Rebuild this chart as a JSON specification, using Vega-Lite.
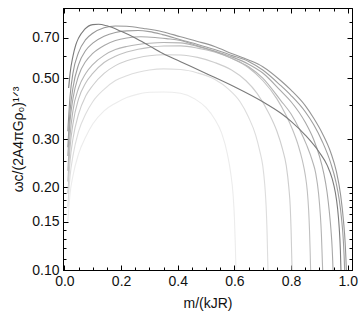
{
  "$schema": "https://vega.github.io/schema/vega-lite/v6.json",
  "width": 289,
  "height": 262,
  "autosize": {"type": "none"},
  "padding": {"left": 63, "top": 8, "right": 8, "bottom": 46},
  "background": "white",
  "config": {
    "view": {"stroke": "#000", "strokeWidth": 1},
    "font": "Liberation Sans",
    "axis": {"domainColor": "#000", "tickColor": "#000", "grid": false, "labelColor": "#111", "titleColor": "#111", "labelFont": "Liberation Sans", "titleFont": "Liberation Sans", "labelFontSize": 14, "titleFontSize": 14, "titleFontWeight": "normal", "labelOverlap": false, "labelFlush": false}
  },
  "data": {"values": [
    {"c":"C8","x":0.012,"v":0.15},{"c":"C8","x":0.02,"v":0.19},{"c":"C8","x":0.03,"v":0.22},{"c":"C8","x":0.05,"v":0.265},{"c":"C8","x":0.075,"v":0.305},{"c":"C8","x":0.1,"v":0.34},{"c":"C8","x":0.14,"v":0.38},{"c":"C8","x":0.18,"v":0.405},{"c":"C8","x":0.22,"v":0.425},{"c":"C8","x":0.26,"v":0.437},{"c":"C8","x":0.3,"v":0.444},{"c":"C8","x":0.35,"v":0.445},{"c":"C8","x":0.41,"v":0.44},{"c":"C8","x":0.46,"v":0.42},{"c":"C8","x":0.5,"v":0.39},{"c":"C8","x":0.53,"v":0.355},{"c":"C8","x":0.555,"v":0.315},{"c":"C8","x":0.575,"v":0.265},{"c":"C8","x":0.587,"v":0.225},{"c":"C8","x":0.595,"v":0.19},{"c":"C8","x":0.6,"v":0.155},{"c":"C8","x":0.603,"v":0.125},{"c":"C8","x":0.605,"v":0.105},{"c":"C8","x":0.607,"v":0.08},
    {"c":"C7","x":0.012,"v":0.17},{"c":"C7","x":0.02,"v":0.22},{"c":"C7","x":0.03,"v":0.26},{"c":"C7","x":0.05,"v":0.32},{"c":"C7","x":0.075,"v":0.37},{"c":"C7","x":0.1,"v":0.41},{"c":"C7","x":0.14,"v":0.455},{"c":"C7","x":0.18,"v":0.49},{"c":"C7","x":0.22,"v":0.51},{"c":"C7","x":0.26,"v":0.525},{"c":"C7","x":0.3,"v":0.535},{"c":"C7","x":0.35,"v":0.54},{"c":"C7","x":0.41,"v":0.537},{"c":"C7","x":0.47,"v":0.522},{"c":"C7","x":0.53,"v":0.495},{"c":"C7","x":0.58,"v":0.455},{"c":"C7","x":0.62,"v":0.41},{"c":"C7","x":0.65,"v":0.36},{"c":"C7","x":0.675,"v":0.31},{"c":"C7","x":0.69,"v":0.27},{"c":"C7","x":0.7,"v":0.24},{"c":"C7","x":0.707,"v":0.205},{"c":"C7","x":0.712,"v":0.17},{"c":"C7","x":0.715,"v":0.14},{"c":"C7","x":0.717,"v":0.115},{"c":"C7","x":0.719,"v":0.095},{"c":"C7","x":0.721,"v":0.075},
    {"c":"C6","x":0.012,"v":0.19},{"c":"C6","x":0.02,"v":0.25},{"c":"C6","x":0.03,"v":0.3},{"c":"C6","x":0.05,"v":0.37},{"c":"C6","x":0.075,"v":0.43},{"c":"C6","x":0.1,"v":0.47},{"c":"C6","x":0.14,"v":0.52},{"c":"C6","x":0.18,"v":0.555},{"c":"C6","x":0.22,"v":0.578},{"c":"C6","x":0.26,"v":0.593},{"c":"C6","x":0.3,"v":0.603},{"c":"C6","x":0.35,"v":0.608},{"c":"C6","x":0.41,"v":0.607},{"c":"C6","x":0.47,"v":0.595},{"c":"C6","x":0.53,"v":0.57},{"c":"C6","x":0.59,"v":0.535},{"c":"C6","x":0.64,"v":0.49},{"c":"C6","x":0.68,"v":0.44},{"c":"C6","x":0.72,"v":0.375},{"c":"C6","x":0.75,"v":0.32},{"c":"C6","x":0.77,"v":0.275},{"c":"C6","x":0.783,"v":0.24},{"c":"C6","x":0.792,"v":0.2},{"c":"C6","x":0.797,"v":0.17},{"c":"C6","x":0.8,"v":0.14},{"c":"C6","x":0.802,"v":0.115},{"c":"C6","x":0.804,"v":0.095},{"c":"C6","x":0.806,"v":0.075},
    {"c":"C5","x":0.012,"v":0.21},{"c":"C5","x":0.02,"v":0.28},{"c":"C5","x":0.03,"v":0.34},{"c":"C5","x":0.05,"v":0.42},{"c":"C5","x":0.075,"v":0.48},{"c":"C5","x":0.1,"v":0.52},{"c":"C5","x":0.14,"v":0.57},{"c":"C5","x":0.18,"v":0.6},{"c":"C5","x":0.22,"v":0.622},{"c":"C5","x":0.26,"v":0.637},{"c":"C5","x":0.3,"v":0.647},{"c":"C5","x":0.35,"v":0.654},{"c":"C5","x":0.41,"v":0.655},{"c":"C5","x":0.47,"v":0.643},{"c":"C5","x":0.53,"v":0.622},{"c":"C5","x":0.59,"v":0.59},{"c":"C5","x":0.65,"v":0.545},{"c":"C5","x":0.7,"v":0.49},{"c":"C5","x":0.75,"v":0.42},{"c":"C5","x":0.78,"v":0.37},{"c":"C5","x":0.805,"v":0.325},{"c":"C5","x":0.825,"v":0.285},{"c":"C5","x":0.84,"v":0.25},{"c":"C5","x":0.85,"v":0.222},{"c":"C5","x":0.857,"v":0.195},{"c":"C5","x":0.862,"v":0.165},{"c":"C5","x":0.865,"v":0.14},{"c":"C5","x":0.867,"v":0.12},{"c":"C5","x":0.869,"v":0.1},{"c":"C5","x":0.871,"v":0.075},
    {"c":"C4","x":0.012,"v":0.23},{"c":"C4","x":0.02,"v":0.31},{"c":"C4","x":0.03,"v":0.38},{"c":"C4","x":0.05,"v":0.46},{"c":"C4","x":0.075,"v":0.52},{"c":"C4","x":0.1,"v":0.56},{"c":"C4","x":0.14,"v":0.605},{"c":"C4","x":0.18,"v":0.635},{"c":"C4","x":0.22,"v":0.652},{"c":"C4","x":0.26,"v":0.663},{"c":"C4","x":0.3,"v":0.67},{"c":"C4","x":0.35,"v":0.674},{"c":"C4","x":0.41,"v":0.672},{"c":"C4","x":0.47,"v":0.652},{"c":"C4","x":0.53,"v":0.625},{"c":"C4","x":0.59,"v":0.59},{"c":"C4","x":0.65,"v":0.55},{"c":"C4","x":0.7,"v":0.5},{"c":"C4","x":0.763,"v":0.415},{"c":"C4","x":0.8,"v":0.37},{"c":"C4","x":0.83,"v":0.325},{"c":"C4","x":0.855,"v":0.285},{"c":"C4","x":0.875,"v":0.25},{"c":"C4","x":0.887,"v":0.225},{"c":"C4","x":0.897,"v":0.19},{"c":"C4","x":0.903,"v":0.16},{"c":"C4","x":0.907,"v":0.135},{"c":"C4","x":0.91,"v":0.11},{"c":"C4","x":0.912,"v":0.095},{"c":"C4","x":0.914,"v":0.075},
    {"c":"T3","x":0.012,"v":0.26},{"c":"T3","x":0.02,"v":0.35},{"c":"T3","x":0.03,"v":0.42},{"c":"T3","x":0.05,"v":0.51},{"c":"T3","x":0.075,"v":0.575},{"c":"T3","x":0.1,"v":0.615},{"c":"T3","x":0.14,"v":0.657},{"c":"T3","x":0.18,"v":0.685},{"c":"T3","x":0.22,"v":0.7},{"c":"T3","x":0.27,"v":0.707},{"c":"T3","x":0.32,"v":0.703},{"c":"T3","x":0.36,"v":0.696},{"c":"T3","x":0.41,"v":0.685},{"c":"T3","x":0.47,"v":0.655},{"c":"T3","x":0.53,"v":0.628},{"c":"T3","x":0.59,"v":0.598},{"c":"T3","x":0.65,"v":0.562},{"c":"T3","x":0.7,"v":0.522},{"c":"T3","x":0.763,"v":0.45},{"c":"T3","x":0.8,"v":0.41},{"c":"T3","x":0.85,"v":0.345},{"c":"T3","x":0.88,"v":0.298},{"c":"T3","x":0.9,"v":0.26},{"c":"T3","x":0.915,"v":0.226},{"c":"T3","x":0.927,"v":0.192},{"c":"T3","x":0.935,"v":0.163},{"c":"T3","x":0.941,"v":0.139},{"c":"T3","x":0.945,"v":0.12},{"c":"T3","x":0.948,"v":0.1},{"c":"T3","x":0.95,"v":0.08},
    {"c":"T2","x":0.012,"v":0.28},{"c":"T2","x":0.02,"v":0.38},{"c":"T2","x":0.03,"v":0.46},{"c":"T2","x":0.05,"v":0.56},{"c":"T2","x":0.075,"v":0.63},{"c":"T2","x":0.1,"v":0.67},{"c":"T2","x":0.14,"v":0.71},{"c":"T2","x":0.18,"v":0.733},{"c":"T2","x":0.22,"v":0.743},{"c":"T2","x":0.26,"v":0.745},{"c":"T2","x":0.3,"v":0.738},{"c":"T2","x":0.346,"v":0.72},{"c":"T2","x":0.41,"v":0.69},{"c":"T2","x":0.47,"v":0.663},{"c":"T2","x":0.53,"v":0.635},{"c":"T2","x":0.59,"v":0.605},{"c":"T2","x":0.65,"v":0.575},{"c":"T2","x":0.7,"v":0.535},{"c":"T2","x":0.763,"v":0.47},{"c":"T2","x":0.8,"v":0.432},{"c":"T2","x":0.85,"v":0.377},{"c":"T2","x":0.88,"v":0.338},{"c":"T2","x":0.91,"v":0.294},{"c":"T2","x":0.94,"v":0.245},{"c":"T2","x":0.958,"v":0.21},{"c":"T2","x":0.97,"v":0.18},{"c":"T2","x":0.978,"v":0.154},{"c":"T2","x":0.984,"v":0.13},{"c":"T2","x":0.989,"v":0.1},{"c":"T2","x":0.992,"v":0.075},
    {"c":"T1","x":0.012,"v":0.32},{"c":"T1","x":0.02,"v":0.43},{"c":"T1","x":0.03,"v":0.52},{"c":"T1","x":0.05,"v":0.62},{"c":"T1","x":0.075,"v":0.69},{"c":"T1","x":0.1,"v":0.728},{"c":"T1","x":0.14,"v":0.762},{"c":"T1","x":0.18,"v":0.774},{"c":"T1","x":0.22,"v":0.772},{"c":"T1","x":0.28,"v":0.758},{"c":"T1","x":0.346,"v":0.738},{"c":"T1","x":0.41,"v":0.707},{"c":"T1","x":0.47,"v":0.68},{"c":"T1","x":0.53,"v":0.652},{"c":"T1","x":0.59,"v":0.615},{"c":"T1","x":0.65,"v":0.582},{"c":"T1","x":0.7,"v":0.55},{"c":"T1","x":0.763,"v":0.49},{"c":"T1","x":0.8,"v":0.452},{"c":"T1","x":0.85,"v":0.397},{"c":"T1","x":0.88,"v":0.357},{"c":"T1","x":0.91,"v":0.315},{"c":"T1","x":0.94,"v":0.268},{"c":"T1","x":0.96,"v":0.228},{"c":"T1","x":0.975,"v":0.187},{"c":"T1","x":0.985,"v":0.151},{"c":"T1","x":0.991,"v":0.125},{"c":"T1","x":0.995,"v":0.1},{"c":"T1","x":0.998,"v":0.075},
    {"c":"D","x":0.015,"v":0.46},{"c":"D","x":0.02,"v":0.52},{"c":"D","x":0.03,"v":0.6},{"c":"D","x":0.04,"v":0.66},{"c":"D","x":0.05,"v":0.7},{"c":"D","x":0.07,"v":0.75},{"c":"D","x":0.1,"v":0.783},{"c":"D","x":0.12,"v":0.785},{"c":"D","x":0.15,"v":0.775},{"c":"D","x":0.2,"v":0.74},{"c":"D","x":0.25,"v":0.7},{"c":"D","x":0.3,"v":0.655},{"c":"D","x":0.346,"v":0.616},{"c":"D","x":0.41,"v":0.574},{"c":"D","x":0.5,"v":0.52},{"c":"D","x":0.6,"v":0.465},{"c":"D","x":0.7,"v":0.41},{"c":"D","x":0.763,"v":0.373},{"c":"D","x":0.8,"v":0.348},{"c":"D","x":0.85,"v":0.31},{"c":"D","x":0.9,"v":0.268},{"c":"D","x":0.928,"v":0.24},{"c":"D","x":0.945,"v":0.215},{"c":"D","x":0.956,"v":0.192},{"c":"D","x":0.964,"v":0.168},{"c":"D","x":0.97,"v":0.142},{"c":"D","x":0.974,"v":0.118},{"c":"D","x":0.976,"v":0.1},{"c":"D","x":0.978,"v":0.08}
  ]},
  "layer": [
    {
      "mark": {"type": "line", "clip": true, "strokeWidth": 1.1, "interpolate": "monotone"},
      "encoding": {
        "x": {"field": "x", "type": "quantitative",
          "scale": {"domain": [-0.005, 1.015], "nice": false, "zero": false},
          "axis": {"orient": "bottom", "title": "m/(kJR)", "titlePadding": 6,
            "values": [0,0.05,0.1,0.15,0.2,0.25,0.3,0.35,0.4,0.45,0.5,0.55,0.6,0.65,0.7,0.75,0.8,0.85,0.9,0.95,1],
            "labelExpr": "indexof([0,0.2,0.4,0.6,0.8,1], datum.value) >= 0 ? format(datum.value, '.1f') : ''",
            "tickSize": {"condition": {"test": "indexof([0,0.2,0.4,0.6,0.8,1], datum.value) >= 0", "value": -5}, "value": -3},
            "labelPadding": 9}},
        "y": {"field": "v", "type": "quantitative",
          "scale": {"type": "log", "domain": [0.1, 0.9], "nice": false},
          "axis": {"orient": "left", "title": "ωc/(2A4πGρ₀)¹ᐟ³", "titlePadding": 6,
            "values": [0.1,0.11,0.12,0.13,0.14,0.15,0.16,0.17,0.18,0.19,0.2,0.25,0.3,0.4,0.5,0.6,0.7,0.8],
            "labelExpr": "indexof([0.1,0.15,0.2,0.3,0.5,0.7], datum.value) >= 0 ? format(datum.value, '.2f') : ''",
            "tickSize": {"condition": {"test": "indexof([0.1,0.15,0.2,0.3,0.5,0.7], datum.value) >= 0", "value": -5}, "value": -3},
            "labelPadding": 9}},
        "color": {"field": "c", "type": "nominal", "legend": null,
          "scale": {"domain": ["C8","C7","C6","C5","C4","T3","T2","T1","D"],
                    "range": ["#ececec","#dddddd","#cecece","#c0c0c0","#b4b4b4","#a8a8a8","#9e9e9e","#969696","#7a7a7a"]}}
      }
    },
    {
      "mark": {"type": "line", "clip": true, "opacity": 0},
      "encoding": {
        "x": {"field": "x", "type": "quantitative",
          "axis": {"orient": "top", "title": null, "labels": false,
            "values": [0,0.05,0.1,0.15,0.2,0.25,0.3,0.35,0.4,0.45,0.5,0.55,0.6,0.65,0.7,0.75,0.8,0.85,0.9,0.95,1],
            "tickSize": {"condition": {"test": "indexof([0,0.2,0.4,0.6,0.8,1], datum.value) >= 0", "value": -5}, "value": -3}}},
        "y": {"field": "v", "type": "quantitative",
          "axis": {"orient": "right", "title": null, "labels": false,
            "values": [0.1,0.11,0.12,0.13,0.14,0.15,0.16,0.17,0.18,0.19,0.2,0.25,0.3,0.4,0.5,0.6,0.7,0.8],
            "tickSize": {"condition": {"test": "indexof([0.1,0.15,0.2,0.3,0.5,0.7], datum.value) >= 0", "value": -5}, "value": -3}}},
        "detail": {"field": "c"}
      }
    }
  ],
  "resolve": {"axis": {"x": "independent", "y": "independent"}}
}
